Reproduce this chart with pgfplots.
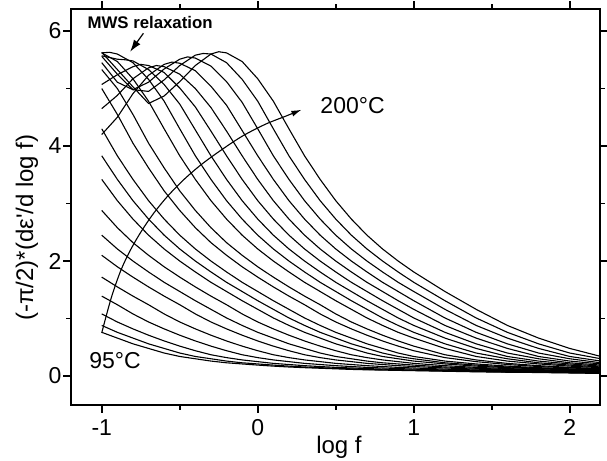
\documentclass[border=0pt]{standalone}
\usepackage{fontspec}
\setmainfont{Liberation Sans}
\usepackage{pgfplots}
\pgfplotsset{compat=1.18}
\usetikzlibrary{arrows.meta}

\begin{document}
\begin{tikzpicture}
\begin{axis}[
  at={(0,0)}, anchor=south west,
  scale only axis, width=264.5pt, height=198pt,
  xmin=-1.197, xmax=2.194, ymin=-0.504, ymax=6.383,
  xtick={-1,0,1,2}, minor xtick={-0.5,0.5,1.5},
  ytick={0,2,4,6}, minor ytick={1,3,5},
  tick align=outside,
  major tick length=3.8pt, minor tick length=2.3pt,
  axis line style={line width=0.9pt},
  tick style={line width=0.8pt, black},
  /pgf/number format/assume math mode=true,
  ticklabel style={font=\fontsize{11.5}{13}\selectfont},
  yticklabel style={anchor=east, xshift=2.5pt},
  cycle list={{black, solid, mark=none}},
  every axis plot post/.append style={black, solid, line width=0.55pt, mark=none},
  clip mode=individual,
]
% 95 C ... 200 C, step 5 C
\addplot coordinates {(-1,0.76) (-0.9,0.66) (-0.8,0.56) (-0.7,0.48) (-0.6,0.40) (-0.5,0.34) (-0.4,0.30) (-0.3,0.26) (-0.2,0.23) (-0.1,0.21) (0,0.19) (0.1,0.172) (0.2,0.157) (0.3,0.145) (0.4,0.135) (0.5,0.125) (0.6,0.115) (0.7,0.108) (0.8,0.103) (0.9,0.098) (1,0.093) (1.2,0.083) (1.4,0.073) (1.6,0.066) (1.8,0.061) (2,0.053) (2.2,0.045)};
\addplot coordinates {(-1,0.88) (-0.9,0.76) (-0.8,0.66) (-0.7,0.56) (-0.6,0.48) (-0.5,0.40) (-0.4,0.34) (-0.3,0.30) (-0.2,0.26) (-0.1,0.23) (0,0.21) (0.1,0.19) (0.2,0.172) (0.3,0.157) (0.4,0.145) (0.5,0.135) (0.6,0.125) (0.7,0.115) (0.8,0.108) (0.9,0.103) (1,0.098) (1.2,0.088) (1.4,0.078) (1.6,0.069) (1.8,0.064) (2,0.058) (2.2,0.049)};
\addplot coordinates {(-1,1.08) (-0.9,0.94) (-0.8,0.82) (-0.7,0.71) (-0.6,0.61) (-0.5,0.52) (-0.4,0.44) (-0.3,0.37) (-0.2,0.32) (-0.1,0.28) (0,0.25) (0.1,0.22) (0.2,0.20) (0.3,0.18) (0.4,0.165) (0.5,0.15) (0.6,0.14) (0.7,0.13) (0.8,0.12) (0.9,0.11) (1,0.105) (1.2,0.095) (1.4,0.085) (1.6,0.075) (1.8,0.068) (2,0.062) (2.2,0.055)};
\addplot coordinates {(-1,1.39) (-0.9,1.24) (-0.8,1.08) (-0.7,0.94) (-0.6,0.82) (-0.5,0.71) (-0.4,0.61) (-0.3,0.52) (-0.2,0.44) (-0.1,0.37) (0,0.32) (0.1,0.28) (0.2,0.25) (0.3,0.22) (0.4,0.20) (0.5,0.18) (0.6,0.165) (0.7,0.15) (0.8,0.14) (0.9,0.13) (1,0.12) (1.2,0.105) (1.4,0.095) (1.6,0.085) (1.8,0.075) (2,0.068) (2.2,0.062)};
\addplot coordinates {(-1,1.72) (-0.9,1.55) (-0.8,1.39) (-0.7,1.24) (-0.6,1.08) (-0.5,0.94) (-0.4,0.82) (-0.3,0.71) (-0.2,0.61) (-0.1,0.52) (0,0.44) (0.1,0.37) (0.2,0.32) (0.3,0.28) (0.4,0.25) (0.5,0.22) (0.6,0.20) (0.7,0.18) (0.8,0.165) (0.9,0.15) (1,0.14) (1.2,0.12) (1.4,0.105) (1.6,0.095) (1.8,0.085) (2,0.075) (2.2,0.068)};
\addplot coordinates {(-1,2.10) (-0.9,1.90) (-0.8,1.72) (-0.7,1.55) (-0.6,1.39) (-0.5,1.24) (-0.4,1.08) (-0.3,0.94) (-0.2,0.82) (-0.1,0.71) (0,0.61) (0.1,0.52) (0.2,0.44) (0.3,0.37) (0.4,0.32) (0.5,0.28) (0.6,0.25) (0.7,0.22) (0.8,0.20) (0.9,0.18) (1,0.165) (1.2,0.14) (1.4,0.12) (1.6,0.105) (1.8,0.095) (2,0.085) (2.2,0.075)};
\addplot coordinates {(-1,2.45) (-0.9,2.21) (-0.8,2.00) (-0.7,1.81) (-0.6,1.63) (-0.5,1.47) (-0.4,1.31) (-0.3,1.16) (-0.2,1.01) (-0.1,0.88) (0,0.76) (0.1,0.66) (0.2,0.56) (0.3,0.48) (0.4,0.40) (0.5,0.34) (0.6,0.30) (0.7,0.26) (0.8,0.23) (0.9,0.21) (1,0.19) (1.2,0.157) (1.4,0.135) (1.6,0.115) (1.8,0.103) (2,0.093) (2.2,0.083)};
\addplot coordinates {(-1,2.88) (-0.9,2.58) (-0.8,2.32) (-0.7,2.10) (-0.6,1.90) (-0.5,1.72) (-0.4,1.55) (-0.3,1.39) (-0.2,1.24) (-0.1,1.08) (0,0.94) (0.1,0.82) (0.2,0.71) (0.3,0.61) (0.4,0.52) (0.5,0.44) (0.6,0.37) (0.7,0.32) (0.8,0.28) (0.9,0.25) (1,0.22) (1.2,0.18) (1.4,0.15) (1.6,0.13) (1.8,0.11) (2,0.10) (2.2,0.09)};
\addplot coordinates {(-1,3.42) (-0.9,3.05) (-0.8,2.73) (-0.7,2.45) (-0.6,2.21) (-0.5,2.00) (-0.4,1.81) (-0.3,1.63) (-0.2,1.47) (-0.1,1.31) (0,1.16) (0.1,1.01) (0.2,0.88) (0.3,0.76) (0.4,0.66) (0.5,0.56) (0.6,0.48) (0.7,0.40) (0.8,0.34) (0.9,0.30) (1,0.26) (1.2,0.21) (1.4,0.172) (1.6,0.145) (1.8,0.125) (2,0.108) (2.2,0.098)};
\addplot coordinates {(-1,3.83) (-0.9,3.42) (-0.8,3.05) (-0.7,2.73) (-0.6,2.45) (-0.5,2.21) (-0.4,2.00) (-0.3,1.81) (-0.2,1.63) (-0.1,1.47) (0,1.31) (0.1,1.16) (0.2,1.01) (0.3,0.88) (0.4,0.76) (0.5,0.66) (0.6,0.56) (0.7,0.48) (0.8,0.40) (0.9,0.34) (1,0.30) (1.2,0.23) (1.4,0.19) (1.6,0.157) (1.8,0.135) (2,0.115) (2.2,0.103)};
\addplot coordinates {(-1,4.30) (-0.9,3.83) (-0.8,3.42) (-0.7,3.05) (-0.6,2.73) (-0.5,2.45) (-0.4,2.21) (-0.3,2.00) (-0.2,1.81) (-0.1,1.63) (0,1.47) (0.1,1.31) (0.2,1.16) (0.3,1.01) (0.4,0.88) (0.5,0.76) (0.6,0.66) (0.7,0.56) (0.8,0.48) (0.9,0.40) (1,0.34) (1.2,0.26) (1.4,0.21) (1.6,0.172) (1.8,0.145) (2,0.125) (2.2,0.108)};
\addplot coordinates {(-1,5.00) (-0.9,4.55) (-0.8,4.05) (-0.7,3.62) (-0.6,3.22) (-0.5,2.88) (-0.4,2.58) (-0.3,2.32) (-0.2,2.10) (-0.1,1.90) (0,1.72) (0.1,1.55) (0.2,1.39) (0.3,1.24) (0.4,1.08) (0.5,0.94) (0.6,0.82) (0.7,0.71) (0.8,0.61) (0.9,0.52) (1,0.44) (1.2,0.32) (1.4,0.25) (1.6,0.20) (1.8,0.165) (2,0.14) (2.2,0.12)};
\addplot coordinates {(-1,5.33) (-0.9,5.00) (-0.8,4.55) (-0.7,4.05) (-0.6,3.62) (-0.5,3.22) (-0.4,2.88) (-0.3,2.58) (-0.2,2.32) (-0.1,2.10) (0,1.90) (0.1,1.72) (0.2,1.55) (0.3,1.39) (0.4,1.24) (0.5,1.08) (0.6,0.94) (0.7,0.82) (0.8,0.71) (0.9,0.61) (1,0.52) (1.2,0.37) (1.4,0.28) (1.6,0.22) (1.8,0.18) (2,0.15) (2.2,0.13)};
\addplot coordinates {(-1,5.62) (-0.9,5.47) (-0.8,5.17) (-0.7,4.78) (-0.6,4.30) (-0.5,3.83) (-0.4,3.42) (-0.3,3.05) (-0.2,2.73) (-0.1,2.45) (0,2.21) (0.1,2.00) (0.2,1.81) (0.3,1.63) (0.4,1.47) (0.5,1.31) (0.6,1.16) (0.7,1.01) (0.8,0.88) (0.9,0.76) (1,0.66) (1.2,0.48) (1.4,0.34) (1.6,0.26) (1.8,0.21) (2,0.172) (2.2,0.145)};
\addplot coordinates {(-1,5.62) (-0.95,5.63) (-0.9,5.60) (-0.8,5.45) (-0.7,5.16) (-0.6,4.78) (-0.5,4.30) (-0.4,3.83) (-0.3,3.42) (-0.2,3.05) (-0.1,2.73) (0,2.45) (0.1,2.21) (0.2,2.00) (0.3,1.81) (0.4,1.63) (0.5,1.47) (0.6,1.31) (0.7,1.16) (0.8,1.01) (0.9,0.88) (1,0.76) (1.2,0.56) (1.4,0.40) (1.6,0.30) (1.8,0.23) (2,0.19) (2.2,0.157)};
\addplot coordinates {(-1,5.57) (-0.9,5.51) (-0.85,5.50) (-0.8,5.48) (-0.7,5.33) (-0.6,5.07) (-0.5,4.73) (-0.4,4.28) (-0.3,3.83) (-0.2,3.42) (-0.1,3.05) (0,2.73) (0.1,2.45) (0.2,2.21) (0.3,2.00) (0.4,1.81) (0.5,1.63) (0.6,1.47) (0.7,1.31) (0.8,1.16) (0.9,1.01) (1,0.88) (1.2,0.66) (1.4,0.48) (1.6,0.34) (1.8,0.26) (2,0.21) (2.2,0.172)};
\addplot coordinates {(-1,5.07) (-0.9,5.24) (-0.8,5.38) (-0.75,5.42) (-0.7,5.40) (-0.6,5.28) (-0.5,5.01) (-0.4,4.68) (-0.3,4.26) (-0.2,3.83) (-0.1,3.42) (0,3.05) (0.1,2.73) (0.2,2.45) (0.3,2.21) (0.4,2.00) (0.5,1.81) (0.6,1.63) (0.7,1.47) (0.8,1.31) (0.9,1.16) (1,1.01) (1.2,0.76) (1.4,0.56) (1.6,0.40) (1.8,0.30) (2,0.23) (2.2,0.19)};
\addplot coordinates {(-1,4.65) (-0.9,4.88) (-0.8,5.17) (-0.7,5.36) (-0.65,5.40) (-0.6,5.38) (-0.5,5.25) (-0.4,5.00) (-0.3,4.67) (-0.2,4.26) (-0.1,3.83) (0,3.42) (0.1,3.05) (0.2,2.73) (0.3,2.45) (0.4,2.21) (0.5,2.00) (0.6,1.81) (0.7,1.63) (0.8,1.47) (0.9,1.31) (1,1.16) (1.2,0.88) (1.4,0.66) (1.6,0.48) (1.8,0.34) (2,0.26) (2.2,0.21)};
\addplot coordinates {(-1,4.20) (-0.9,4.50) (-0.8,4.91) (-0.7,5.23) (-0.6,5.42) (-0.55,5.46) (-0.5,5.44) (-0.4,5.31) (-0.3,5.04) (-0.2,4.71) (-0.1,4.27) (0,3.83) (0.1,3.42) (0.2,3.05) (0.3,2.73) (0.4,2.45) (0.5,2.21) (0.6,2.00) (0.7,1.81) (0.8,1.63) (0.9,1.47) (1,1.31) (1.2,1.01) (1.4,0.76) (1.6,0.56) (1.8,0.40) (2,0.30) (2.2,0.23)};
\addplot coordinates {(-1,5.45) (-0.9,5.11) (-0.8,4.98) (-0.7,5.11) (-0.6,5.34) (-0.5,5.51) (-0.45,5.55) (-0.4,5.53) (-0.3,5.39) (-0.2,5.12) (-0.1,4.76) (0,4.30) (0.1,3.83) (0.2,3.42) (0.3,3.05) (0.4,2.73) (0.5,2.45) (0.6,2.21) (0.7,2.00) (0.8,1.81) (0.9,1.63) (1,1.47) (1.2,1.16) (1.4,0.88) (1.6,0.66) (1.8,0.48) (2,0.34) (2.2,0.26)};
\addplot coordinates {(-1,5.56) (-0.9,5.25) (-0.8,4.98) (-0.7,4.95) (-0.6,5.15) (-0.5,5.40) (-0.4,5.58) (-0.35,5.61) (-0.3,5.60) (-0.2,5.45) (-0.1,5.16) (0,4.78) (0.1,4.30) (0.2,3.83) (0.3,3.42) (0.4,3.05) (0.5,2.73) (0.6,2.45) (0.7,2.21) (0.8,2.00) (0.9,1.81) (1,1.63) (1.2,1.31) (1.4,1.01) (1.6,0.76) (1.8,0.56) (2,0.40) (2.2,0.30)};
\addplot coordinates {(-1,5.63) (-0.9,5.33) (-0.8,5.03) (-0.7,4.74) (-0.6,4.87) (-0.5,5.12) (-0.4,5.40) (-0.3,5.60) (-0.25,5.64) (-0.2,5.62) (-0.1,5.47) (0,5.17) (0.1,4.78) (0.2,4.30) (0.3,3.83) (0.4,3.42) (0.5,3.05) (0.6,2.73) (0.7,2.45) (0.8,2.21) (0.9,2.00) (1,1.81) (1.2,1.47) (1.4,1.16) (1.6,0.88) (1.8,0.66) (2,0.48) (2.2,0.34)};
% temperature arrow
\addplot[smooth, -{Latex[length=5pt,width=3pt]}] coordinates {(-1.0,0.75) (-0.94,1.35) (-0.88,1.82) (-0.82,2.17) (-0.75,2.50) (-0.67,2.82) (-0.58,3.12) (-0.48,3.40) (-0.37,3.66) (-0.25,3.90) (-0.1,4.17) (0.05,4.38) (0.18,4.52) (0.28,4.63)};
\draw[line width=0.6pt, -{Latex[length=6pt,width=4pt]}] (axis cs:-0.733,5.96) -- (axis cs:-0.818,5.64);
\node[font=\fontsize{8.4}{10}\selectfont\bfseries] at (axis cs:-0.69,6.14) {MWS relaxation};
\node[font=\fontsize{11.5}{13}\selectfont] at (axis cs:0.608,4.71) {200°C};
\node[font=\fontsize{11.5}{13}\selectfont] at (axis cs:-0.915,0.26) {95°C};
% axis titles
\node[font=\fontsize{12}{14}\selectfont, anchor=base] at (axis description cs:0.5066,-0.1225) {log f};
\node[font=\fontsize{12}{14}\selectfont, rotate=90, anchor=center] at (axis description cs:-0.0832,0.448) {(-π/2)*(dε\textquotesingle/d log f)};
\end{axis}
\pgfresetboundingbox
\path[use as bounding box] (-35.5pt,-28pt) rectangle (268pt,202.5pt);
\end{tikzpicture}
\end{document}
